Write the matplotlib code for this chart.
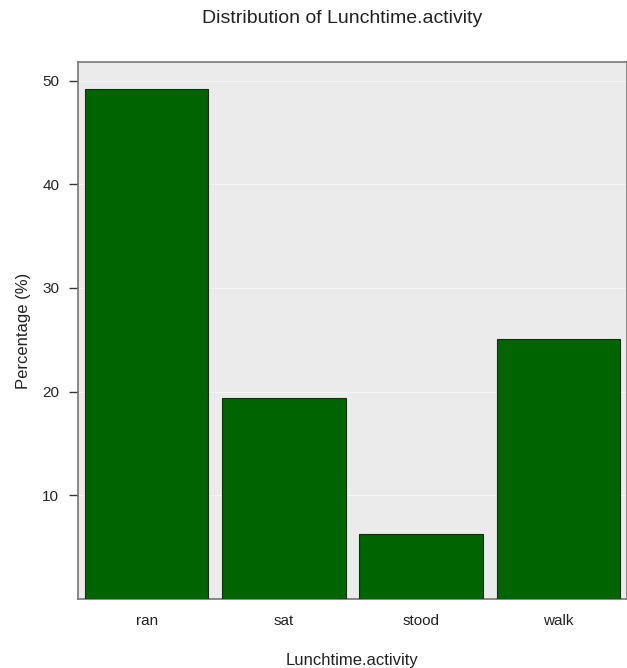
import numpy as np
import matplotlib
matplotlib.use('Agg')
import matplotlib.pyplot as plt

plt.rcParams['font.family'] = ['Liberation Sans', 'DejaVu Sans']

# Data
categories = ['ran', 'sat', 'stood', 'walk']
percent = [49.2, 19.4, 6.3, 25.1]
yticks = [10, 20, 30, 40, 50]

fig = plt.figure(figsize=(6.27, 6.68), dpi=100)
ax = fig.add_axes([0.1244, 0.1033, 0.8756, 0.8039])
ax.set_facecolor('#ebebeb')

x = np.arange(len(categories))
ax.bar(x, percent, width=0.9, color='#006400', edgecolor='#1a2a1a', linewidth=0.8, zorder=3)

ax.set_xlim(-0.5, 3.5)
ax.set_ylim(0, 51.8)
ax.set_yticks(yticks)
ax.set_xticks(x)
ax.set_xticklabels(categories)
ax.yaxis.grid(True, color='#f6f6f6', linewidth=0.7, zorder=0)
ax.set_axisbelow(True)

ax.tick_params(axis='x', length=0, pad=11, labelsize=11, colors='#222222')
ax.tick_params(axis='y', length=6.5, width=1, color='#333333', pad=7,
               labelsize=11, labelcolor='#222222')

for side in ['left', 'top', 'bottom', 'right']:
    ax.spines[side].set_color('#777777')
    ax.spines[side].set_linewidth(1.2)

ax.set_xlabel('Lunchtime.activity', fontsize=12, labelpad=18, color='#222222')
ax.set_ylabel('Percentage (%)', fontsize=12, labelpad=8, color='#222222')
fig.text(0.546, 0.973, 'Distribution of Lunchtime.activity', ha='center', va='center',
         fontsize=14, color='#222222')

plt.savefig('out.png', dpi=100)
